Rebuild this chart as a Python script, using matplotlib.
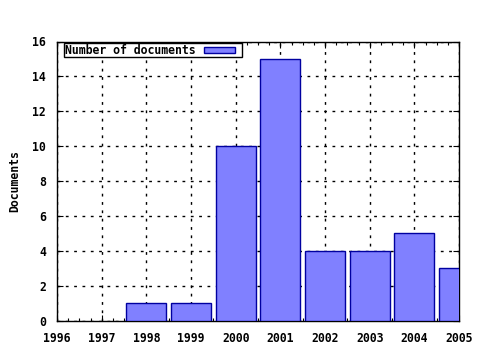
import matplotlib
matplotlib.use("Agg")
import matplotlib.pyplot as plt
from matplotlib.ticker import MultipleLocator
from matplotlib.patches import Rectangle

years = [1998, 1999, 2000, 2001, 2002, 2003, 2004, 2005]
docs = [1, 1, 10, 15, 4, 4, 5, 3]
series_label = "Number of documents"
y_label = "Documents"
x_ticks = list(range(1996, 2006))
y_ticks = list(range(0, 17, 2))

FS = 8.3
FACE = '#8080ff'
EDGE = '#0000a0'
plt.rcParams['font.family'] = ['DejaVu Sans Mono']
plt.rcParams['font.weight'] = 'bold'
plt.rcParams['font.size'] = FS

fig = plt.figure(figsize=(4.8, 3.5), dpi=100)
L, R, T, B = 57, 459, 41.5, 320.5
ax = fig.add_axes([L/480, 1-B/350, (R-L)/480, (B-T)/350])

ax.bar(years, docs, width=0.9, color=FACE, edgecolor=EDGE, linewidth=1.0, zorder=3)

ax.set_xlim(1996, 2005)
ax.set_ylim(0, 16)
ax.set_xticks(x_ticks)
ax.set_yticks(y_ticks)
ax.xaxis.set_minor_locator(MultipleLocator(0.25))
ax.tick_params(which='both', direction='in', top=True, right=True, labelsize=FS, colors='black')
ax.tick_params(which='major', length=4, width=0.8)
ax.tick_params(which='minor', length=2, width=0.8)
ax.tick_params(axis='y', which='major', pad=8)
ax.tick_params(axis='x', which='major', pad=8.5)
for s in ax.spines.values():
    s.set_linewidth(1.0)
ax.grid(True, which='major', linestyle=(0, (2, 4)), color='black', linewidth=1.0, zorder=1)
ax.set_axisbelow(True)

ax.set_ylabel(y_label, fontsize=FS, fontweight='bold', labelpad=8)

# legend box (gnuplot style) in axes coordinates
def ax_x(px):
    return (px - L) / (R - L)

def ax_y(py):
    return (B - py) / (B - T)

ax.add_patch(Rectangle((ax_x(64), ax_y(57)), ax_x(242) - ax_x(64), ax_y(43) - ax_y(57),
                       transform=ax.transAxes, facecolor='white', edgecolor='black',
                       linewidth=1.0, zorder=5, clip_on=False))
ax.text(ax_x(65), ax_y(50), series_label, transform=ax.transAxes, ha='left', va='center',
        fontsize=FS, fontweight='bold', zorder=6)
ax.add_patch(Rectangle((ax_x(204), ax_y(53)), ax_x(235) - ax_x(204), ax_y(47.5) - ax_y(53),
                       transform=ax.transAxes, facecolor=FACE, edgecolor=EDGE,
                       linewidth=1.0, zorder=6, clip_on=False))

fig.savefig("out.png", dpi=100)
